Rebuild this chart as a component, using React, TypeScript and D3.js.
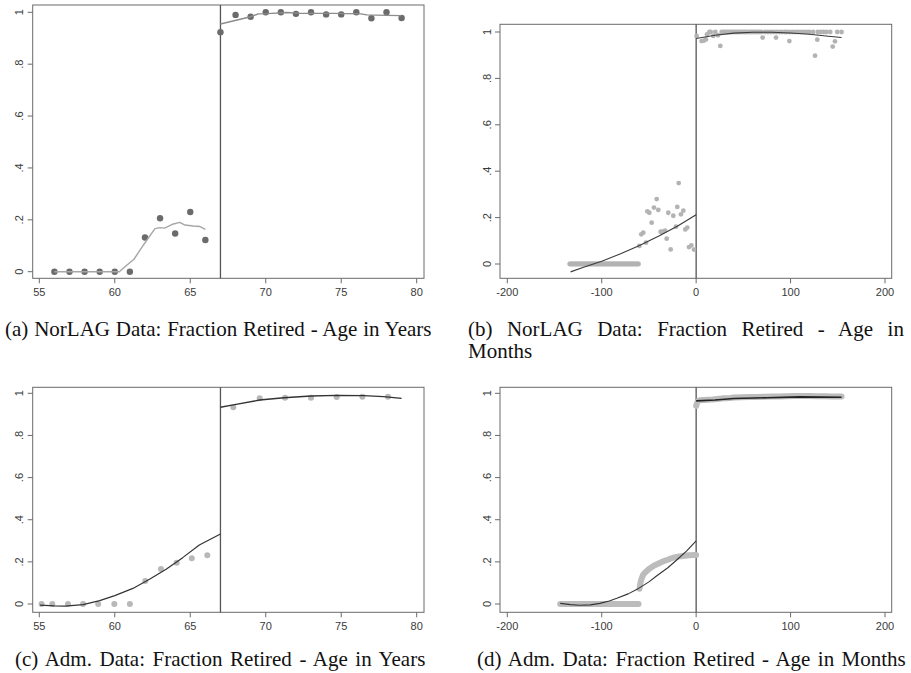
import * as d3 from "d3";

// (a) NorLAG, fraction retired by age in years
const ageA = [56, 57, 58, 59, 60, 61, 62, 63, 64, 65, 66, 67, 68, 69, 70, 71, 72, 73, 74, 75, 76, 77, 78, 79];
const fracA = [0, 0, 0, 0, 0, 0, 0.132, 0.206, 0.147, 0.23, 0.122, 0.923, 0.99, 0.983, 1, 1, 0.994, 1, 0.992, 0.992, 1, 0.977, 1, 0.978];
const smoothLeftAgeA = [56, 60.3, 60.67, 61.27, 61.9, 62.66, 63, 63.3, 63.88, 64.3, 64.65, 65.2, 65.65, 66];
const smoothLeftFracA = [0, 0, 0.019, 0.048, 0.103, 0.166, 0.17, 0.168, 0.184, 0.19, 0.18, 0.176, 0.174, 0.163];
const smoothRightAgeA = [67, 69, 69.5, 70.1, 71.4, 72.3, 74.5, 76.3, 76.7, 78, 79];
const smoothRightFracA = [0.955, 0.983, 0.994, 0.995, 0.999, 0.996, 0.996, 0.994, 0.99, 0.988, 0.987];

// (b) NorLAG, age in months relative to cutoff
const zeroMonthsB = [
  -134, -133, -132, -131, -130, -129, -128, -127, -126, -125, -124, -123, -122, -121, -120, -119, -118, -117, -116,
  -115, -114, -113, -112, -111, -110, -109, -108, -107, -106, -105, -104, -103, -102, -101, -100, -99, -98, -97,
  -96, -95, -94, -93, -92, -91, -90, -89, -88, -87, -86, -85, -84, -83, -82, -81, -80, -79, -78, -77, -76, -75,
  -74, -73, -72, -71, -70, -69, -68, -67, -66, -65, -64, -63, -62, -61,
];
const monthsB = [
  -60.2, -58.1, -56, -53.1, -51.7, -49.6, -47.1, -44.7, -41.8, -40.1, -37.6, -35.5, -33, -31.2, -29.5, -27, -24.2,
  -21.4, -20, -18.5, -16.1, -13.6, -11.5, -9.4, -7.6, -5.1, -2.3,
  0.5, 5.8, 8.3, 10.4, 11.5, 15.4, 18.2, 20.3, 23.1, 25.6, 70.4, 84.6, 98.7, 125.9, 128.3, 144.6, 147, 149.4, 154,
  14, 27, 29, 31, 33, 35, 37, 39, 41, 43, 45, 47, 49, 51, 53, 55, 57, 59, 61, 63, 65, 67, 69, 73, 76, 79, 82,
  85, 88, 91, 94, 96, 99, 102, 105, 108, 111, 114, 117, 120, 124, 129, 132, 135, 138, 142,
];
const fracB = [
  0.078, 0.128, 0.135, 0.092, 0.227, 0.221, 0.178, 0.243, 0.28, 0.233, 0.139, 0.139, 0.144, 0.109, 0.221, 0.063, 0.208,
  0.161, 0.246, 0.349, 0.214, 0.23, 0.149, 0.157, 0.073, 0.08, 0.062,
  0.983, 0.961, 0.963, 0.968, 0.99, 1, 0.983, 1, 0.986, 0.94, 0.976, 0.976, 0.961, 0.898, 0.967, 0.937, 0.96, 1, 1,
  1, 1, 1, 1, 1, 1, 1, 1, 1, 1, 1, 1, 1, 1, 1, 1, 1, 1, 1, 1, 1, 1, 1, 1, 1, 1, 1,
  1, 1, 1, 1, 1, 1, 1, 1, 1, 1, 1, 1, 1, 1, 1, 1, 1, 1, 1,
];
const fitLeftMonthsB = [-133, -120, -100, -80, -60, -40, -20, 0];
const fitLeftFracB = [-0.034, -0.015, 0.012, 0.044, 0.08, 0.12, 0.163, 0.212];
const fitRightMonthsB = [0, 20, 40, 60, 80, 100, 120, 140, 154];
const fitRightFracB = [0.972, 0.986, 0.995, 0.999, 0.999, 0.996, 0.99, 0.982, 0.976];

// (c) administrative data, age in years
const ageC = [55.15, 55.86, 56.9, 57.9, 58.9, 59.97, 61, 62.02, 63.06, 64.1, 65.1, 66.13, 67.85, 69.6, 71.28, 73, 74.7, 76.4, 78.1];
const fracC = [0, 0, 0, 0, 0, 0, 0, 0.109, 0.166, 0.196, 0.217, 0.231, 0.934, 0.976, 0.979, 0.979, 0.983, 0.984, 0.984];
const fitLeftAgeC = [55.05, 56, 56.7, 57.9, 59, 60, 61.2, 62.3, 63.4, 64.5, 65.6, 67];
const fitLeftFracC = [-0.005, -0.009, -0.01, -0.003, 0.016, 0.04, 0.074, 0.117, 0.165, 0.22, 0.28, 0.332];
const fitRightAgeC = [67, 67.85, 69.6, 71.2, 73, 74.7, 76.5, 77.8, 79];
const fitRightFracC = [0.934, 0.945, 0.968, 0.979, 0.987, 0.99, 0.989, 0.984, 0.976];

// (d) administrative data, age in months (dense monthly cells read as bands)
const zeroMonthsD = [-144, -130, -115, -100, -85, -70, -61];
const zeroFracD = [0, 0, 0, 0, 0, 0, 0];
const riseMonthsD = [
  -60, -59, -58, -56, -54, -52, -50, -48, -46, -44, -42, -40, -38, -36, -34, -32, -30, -28, -26, -24, -22, -20, -18,
  -16, -14, -12, -10, -8, -6, -4, -2, 0,
];
const riseFracD = [
  0.072, 0.1, 0.118, 0.14, 0.15, 0.158, 0.166, 0.172, 0.178, 0.184, 0.188, 0.192, 0.196, 0.2, 0.204, 0.207, 0.21,
  0.214, 0.217, 0.22, 0.222, 0.224, 0.226, 0.227, 0.228, 0.229, 0.23, 0.231, 0.231, 0.232, 0.232, 0.232,
];
const bandRightMonthsD = [0, 1, 2, 4, 8, 12, 16, 20, 24, 28, 32, 36, 40, 48, 56, 64, 72, 80, 88, 96, 104, 112, 120, 128, 136, 144, 154];
const bandRightFracD = [
  0.94, 0.955, 0.963, 0.967, 0.968, 0.969, 0.97, 0.972, 0.974, 0.976, 0.977, 0.978, 0.98, 0.981, 0.982, 0.983, 0.984,
  0.985, 0.985, 0.986, 0.987, 0.987, 0.987, 0.986, 0.986, 0.985, 0.985,
];
const fitLeftMonthsD = [-144, -133, -123, -112, -102, -92, -84, -72, -61, -50, -42, -30, -20.6, -10, 0];
const fitLeftFracD = [0.003, -0.003, -0.006, -0.004, 0.003, 0.014, 0.027, 0.048, 0.074, 0.105, 0.133, 0.172, 0.209, 0.252, 0.3];
const fitRightMonthsD = [0, 20, 40, 75, 110, 154];
const fitRightFracD = [0.964, 0.968, 0.975, 0.979, 0.983, 0.981];

const yearTicks = [55, 60, 65, 70, 75, 80];
const monthTicks = [-200, -100, 0, 100, 200];
const fracTicks = [0, 0.2, 0.4, 0.6, 0.8, 1];
const fracTickLabels = ["0", ".2", ".4", ".6", ".8", "1"];

type Series = { xs: number[]; ys: number[] };
type LineSpec = Series & { color: string; width: number; cap?: "round" | "butt" };
type DotSpec = Series & { color: string; r: number };

type PanelProps = {
  frame: { x0: number; x1: number; y0: number; y1: number };
  xDomain: [number, number];
  xRange: [number, number];
  yRange: [number, number];
  xTicks: number[];
  cutoff: number;
  dots: DotSpec[];
  lines: LineSpec[];
};

function Panel({ frame, xDomain, xRange, yRange, xTicks, cutoff, dots, lines }: PanelProps) {
  const x = d3.scaleLinear().domain(xDomain).range(xRange);
  const y = d3.scaleLinear().domain([0, 1]).range(yRange);
  const path = d3
    .line<[number, number]>()
    .x((d) => x(d[0]))
    .y((d) => y(d[1]));
  const tickFont = { fontFamily: "Liberation Sans, Arial, sans-serif", fontSize: 11, fill: "#3a3a3a" };

  return (
    <g>
      {/* frame */}
      <rect
        x={frame.x0}
        y={frame.y0}
        width={frame.x1 - frame.x0}
        height={frame.y1 - frame.y0}
        fill="none"
        stroke="#6a6a6a"
        strokeWidth={1}
      />
      {/* x axis */}
      {xTicks.map((t) => (
        <g key={"x" + t}>
          <line x1={x(t)} x2={x(t)} y1={frame.y1} y2={frame.y1 + 5} stroke="#6a6a6a" />
          <text x={x(t)} y={frame.y1 + 18} textAnchor="middle" {...tickFont}>
            {t}
          </text>
        </g>
      ))}
      {/* y axis */}
      {fracTicks.map((t, i) => (
        <g key={"y" + t}>
          <line x1={frame.x0 - 5} x2={frame.x0} y1={y(t)} y2={y(t)} stroke="#6a6a6a" />
          <text
            transform={`translate(${frame.x0 - 9.5},${y(t)}) rotate(-90)`}
            textAnchor="middle"
            {...tickFont}
          >
            {fracTickLabels[i]}
          </text>
        </g>
      ))}
      {/* cutoff */}
      <line x1={x(cutoff)} x2={x(cutoff)} y1={frame.y0} y2={frame.y1} stroke="#555" strokeWidth={1.3} />
      {dots.map((s, k) =>
        s.xs.map((v, i) => <circle key={k + "-" + i} cx={x(v)} cy={y(s.ys[i])} r={s.r} fill={s.color} />)
      )}
      {lines.map((l, k) => (
        <path
          key={"l" + k}
          d={path(l.xs.map((v, i) => [v, l.ys[i]] as [number, number])) || ""}
          fill="none"
          stroke={l.color}
          strokeWidth={l.width}
          strokeLinecap={l.cap || "butt"}
          strokeLinejoin="round"
        />
      ))}
    </g>
  );
}

function Caption({ x, y, wordSpacing, text }: { x: number; y: number; wordSpacing?: number; text: string }) {
  return (
    <text
      x={x}
      y={y}
      fontFamily="Liberation Serif, Times New Roman, serif"
      fontSize={21}
      fill="#111"
      style={wordSpacing ? { wordSpacing: `${wordSpacing}px` } : undefined}
    >
      {text}
    </text>
  );
}

export default function App() {
  const zerosB = zeroMonthsB.map(() => 0);
  const top = { y0: 5, y1: 278.3 };
  const topB = { y0: 24.3, y1: 278.3 };
  const bottom = { y0: 387.3, y1: 612.3 };
  const left = { x0: 32.7, x1: 424 };
  const right = { x0: 500, x1: 891.7 };
  const yearX: [number, number] = [55, 80];
  const yearPx: [number, number] = [39.3, 416.7];
  const monthX: [number, number] = [-200, 200];
  const monthPx: [number, number] = [507.3, 885];

  return (
    <svg width={911} height={673} style={{ position: "absolute", left: 0, top: 0, background: "#fff" }}>
      <Panel
        frame={{ ...left, ...top }}
        xDomain={yearX}
        xRange={yearPx}
        yRange={[271.7, 12.3]}
        xTicks={yearTicks}
        cutoff={67}
        dots={[{ xs: ageA, ys: fracA, color: "#6b6b6b", r: 3.2 }]}
        lines={[
          { xs: smoothLeftAgeA, ys: smoothLeftFracA, color: "#a6a6a6", width: 1.4 },
          { xs: smoothRightAgeA, ys: smoothRightFracA, color: "#8c8c8c", width: 1.4 },
        ]}
      />
      <Panel
        frame={{ ...right, ...topB }}
        xDomain={monthX}
        xRange={monthPx}
        yRange={[264, 32]}
        xTicks={monthTicks}
        cutoff={0}
        dots={[
          { xs: zeroMonthsB, ys: zerosB, color: "#b3b3b3", r: 2.4 },
          { xs: monthsB, ys: fracB, color: "#b3b3b3", r: 2.4 },
        ]}
        lines={[
          { xs: fitLeftMonthsB, ys: fitLeftFracB, color: "#3a3a3a", width: 1.1 },
          { xs: fitRightMonthsB, ys: fitRightFracB, color: "#3a3a3a", width: 1.1 },
        ]}
      />
      <Panel
        frame={{ ...left, ...bottom }}
        xDomain={yearX}
        xRange={yearPx}
        yRange={[604, 393.3]}
        xTicks={yearTicks}
        cutoff={67}
        dots={[{ xs: ageC, ys: fracC, color: "#b8b8b8", r: 3 }]}
        lines={[
          { xs: fitLeftAgeC, ys: fitLeftFracC, color: "#333", width: 1.2 },
          { xs: fitRightAgeC, ys: fitRightFracC, color: "#333", width: 1.4 },
        ]}
      />
      <Panel
        frame={{ ...right, ...bottom }}
        xDomain={monthX}
        xRange={monthPx}
        yRange={[604, 393.3]}
        xTicks={monthTicks}
        cutoff={0}
        dots={[]}
        lines={[
          { xs: zeroMonthsD, ys: zeroFracD, color: "#bcbcbc", width: 6, cap: "round" },
          { xs: riseMonthsD, ys: riseFracD, color: "#bcbcbc", width: 6, cap: "round" },
          { xs: bandRightMonthsD, ys: bandRightFracD, color: "#bcbcbc", width: 6, cap: "round" },
          { xs: fitLeftMonthsD, ys: fitLeftFracD, color: "#333", width: 1.1 },
          { xs: fitRightMonthsD, ys: fitRightFracD, color: "#222", width: 1.6 },
        ]}
      />
      <Caption x={5} y={336} wordSpacing={0.6} text="(a) NorLAG Data: Fraction Retired - Age in Years" />
      <Caption x={468} y={336} wordSpacing={9.2} text="(b) NorLAG Data:  Fraction Retired - Age in" />
      <Caption x={468} y={358} text="Months" />
      <Caption x={15} y={666} wordSpacing={2.3} text="(c) Adm. Data: Fraction Retired - Age in Years" />
      <Caption x={477} y={666} wordSpacing={2.2} text="(d) Adm. Data: Fraction Retired - Age in Months" />
    </svg>
  );
}
